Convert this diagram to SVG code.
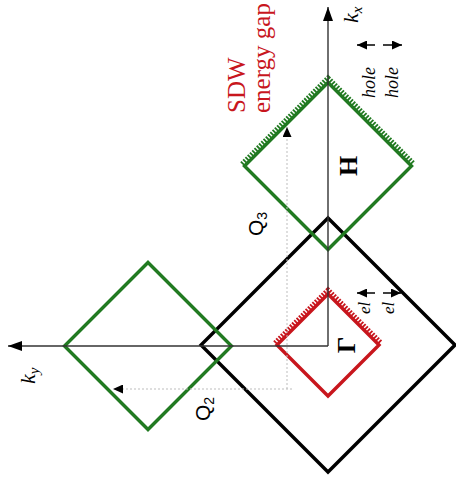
<svg xmlns="http://www.w3.org/2000/svg" width="456" height="485" viewBox="0 0 456 485">
  <style>
    .fs { fill: none; stroke-width: 3.4; stroke-linejoin: miter; }
    .green { stroke: #217a21; }
    .red { stroke: #c8161d; }
    .black { stroke: #000; }
    .hatch { fill: none; stroke-width: 5; stroke-dasharray: 1.8 1.4; }
    .axis { stroke: #333; stroke-width: 1.4; fill: none; }
    .vec { stroke: #bdbdbd; stroke-width: 1; stroke-dasharray: 2 2; fill: none; }
    .tiny { stroke: #000; stroke-width: 1.5; fill: none; }
    .lbl { font-family: "Liberation Serif", serif; fill: #000; }
    .it { font-style: italic; }
    .sans { font-family: "Liberation Sans", sans-serif; fill: #000; }
    .sdw { font-family: "Liberation Serif", serif; fill: #c8161d; font-size: 25px; }
  </style>
  <defs>
    <marker id="axhead" markerUnits="userSpaceOnUse" markerWidth="14" markerHeight="10" refX="14" refY="5" orient="auto">
      <path d="M0,0 L14,5 L0,10 z" fill="#000"/>
    </marker>
    <marker id="smhead" markerUnits="userSpaceOnUse" markerWidth="10" markerHeight="9" refX="10" refY="4.5" orient="auto">
      <path d="M0,0 L10,4.5 L0,9 z" fill="#000"/>
    </marker>
  </defs>

  <!-- Brillouin-zone sized outer square -->
  <g id="bz">
    <path class="fs black" d="M328,218 L455,345 L328,472 L201,345 Z"/>
  </g>

  <!-- hole pocket at H -->
  <g id="pocket-H">
    <path class="fs green" d="M328,82.5 L411.5,166 L328,249.5 L244.5,166 Z"/>
    <polyline class="hatch green" points="242,164 328,78 414,164"/>
    <text class="lbl" font-weight="bold" font-size="26" text-anchor="middle" transform="translate(357,166) rotate(-90)">H</text>
  </g>

  <!-- folded pocket along ky -->
  <g id="pocket-Q2">
    <path class="fs green" d="M148,262.5 L231.5,346 L148,429.5 L64.5,346 Z"/>
  </g>

  <!-- electron pocket at Gamma -->
  <g id="pocket-G">
    <path class="fs red" d="M328,294 L379,345 L328,396 L277,345 Z"/>
    <polyline class="hatch red" points="275,343 328,290 381,343"/>
    <text class="lbl" font-weight="bold" font-size="26" text-anchor="middle" transform="translate(355,345) rotate(-90)">Γ</text>
  </g>

  <!-- connectors: axes and nesting vectors -->
  <g id="connectors">
    <line class="axis" x1="328" y1="346" x2="328" y2="7" marker-end="url(#axhead)"/>
    <line class="axis" x1="328" y1="346" x2="8" y2="346" marker-end="url(#axhead)"/>
    <line class="vec" x1="287" y1="389" x2="287" y2="127" marker-end="url(#smhead)"/>
    <line class="vec" x1="292" y1="389" x2="113" y2="389" marker-end="url(#smhead)"/>
    <line class="tiny" x1="375" y1="45" x2="357" y2="45" marker-end="url(#smhead)"/>
    <line class="tiny" x1="383" y1="45" x2="402" y2="45" marker-end="url(#smhead)"/>
    <line class="tiny" x1="375" y1="293" x2="357" y2="293" marker-end="url(#smhead)"/>
    <line class="tiny" x1="383" y1="293" x2="401" y2="293" marker-end="url(#smhead)"/>
  </g>

  <!-- labels -->
  <g id="labels">
    <text class="lbl it" font-size="22" transform="translate(358,23) rotate(-90)">k<tspan font-size="15" dy="4">x</tspan></text>
    <text class="lbl it" font-size="22" transform="translate(35,384) rotate(-90)">k<tspan font-size="15" dy="4">y</tspan></text>
    <text class="sdw" transform="translate(245,113) rotate(-90)">SDW</text>
    <text class="sdw" transform="translate(270,113) rotate(-90)">energy gap</text>
    <text class="lbl it" font-size="18" transform="translate(375,98) rotate(-90)">hole</text>
    <text class="lbl it" font-size="18" transform="translate(398,98) rotate(-90)">hole</text>
    <text class="lbl it" font-size="17" transform="translate(370,314) rotate(-90)">el</text>
    <text class="lbl it" font-size="17" transform="translate(394,314) rotate(-90)">el</text>
    <text class="sans" font-size="21" transform="translate(263,236) rotate(-90)">Q<tspan font-size="14" dy="4">3</tspan></text>
    <text class="sans" font-size="21" transform="translate(210,421) rotate(-90)">Q<tspan font-size="14" dy="4">2</tspan></text>
  </g>
</svg>
